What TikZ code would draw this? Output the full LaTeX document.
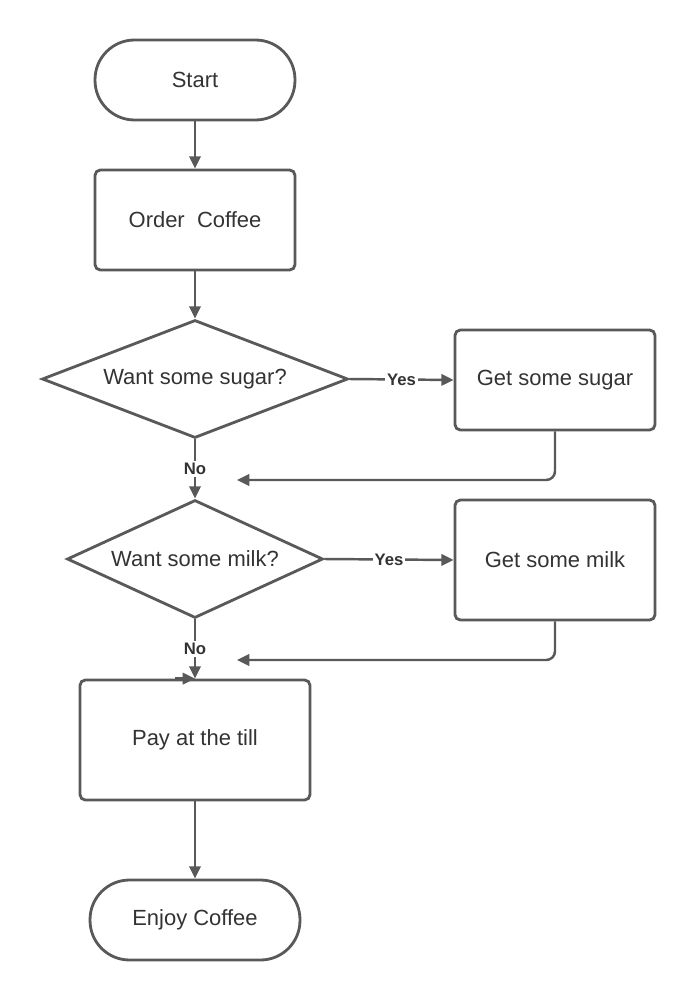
\documentclass[tikz,border=0pt]{standalone}
\usepackage{fontspec}
\setmainfont{Liberation Sans}
\usetikzlibrary{shapes.geometric,arrows.meta}
\definecolor{edgegray}{HTML}{595959}
\definecolor{textgray}{HTML}{333333}
\begin{document}
\begin{tikzpicture}[x=0.02cm, y=-0.02cm,
    every node/.style={align=center, text=textgray, font=\fontsize{12.5}{14}\selectfont},
    terminal/.style={draw=edgegray, line width=1.6pt, rounded corners=0.79cm, minimum width=4cm, minimum height=1.6cm},
    process/.style={draw=edgegray, line width=1.6pt, rounded corners=3pt, minimum width=4cm, minimum height=2cm},
    decision/.style={draw=edgegray, line width=1.6pt, diamond, inner sep=0pt, minimum height=2.36cm},
    arrow/.style={draw=edgegray, line width=1.4pt, -{Triangle[length=7pt,width=6.5pt]}},
    answer/.style={fill=white, inner sep=1pt, font=\fontsize{9.5}{10}\selectfont\bfseries}]
    \useasboundingbox (0,0) rectangle (695,1000);

    \node[terminal] (start) at (195,80) {Start};
    \node[process] (order) at (195,220) {Order\ \ Coffee};
    \node[decision, aspect=2.59, minimum width=6.12cm] (sugar) at (195,379) {Want some sugar?};
    \node[process] (getsugar) at (555,380) {Get some sugar};
    \node[decision, aspect=2.17, minimum width=5.12cm] (milk) at (195,559) {Want some milk?};
    \node[process, minimum height=2.4cm] (getmilk) at (555,560) {Get some milk};
    \node[process, minimum width=4.6cm, minimum height=2.4cm] (pay) at (195,740) {Pay at the till};
    \node[terminal, minimum width=4.2cm] (enjoy) at (195,920) {Enjoy Coffee};

    \coordinate (sugarback) at (237,480);
    \coordinate (milkback) at (237,660);

    \draw[arrow] (start) -- (order);
    \draw[arrow] (order) -- (sugar);
    \draw[arrow] (sugar.east) -- node[answer] {Yes} (getsugar.west);
    \draw[arrow] (sugar.south) -- node[answer] {No} (milk.north);
    \draw[arrow, rounded corners=5pt] (getsugar.south) |- (sugarback);
    \draw[arrow] (milk.east) -- node[answer] {Yes} (getmilk.west);
    \draw[arrow] (milk.south) -- node[answer] {No} (pay.north);
    \draw[arrow, rounded corners=5pt] (getmilk.south) |- (milkback);
    \draw[arrow] ([xshift=-0.4cm]pay.north) -- (pay.north);
    \draw[arrow] (pay) -- (enjoy);
\end{tikzpicture}
\end{document}
